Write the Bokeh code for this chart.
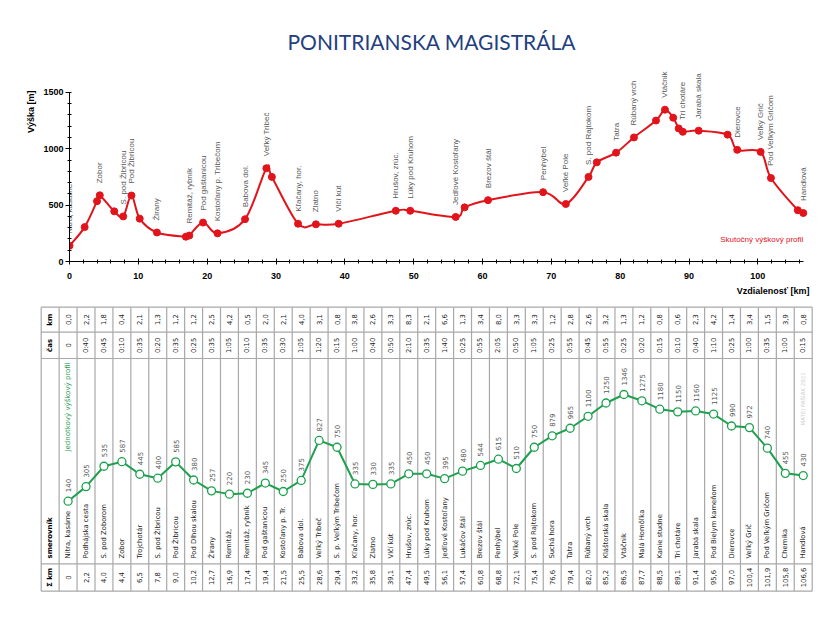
import math
import numpy as np
from bokeh.plotting import figure
from bokeh.models import Range1d, SingleIntervalTicker, Title, Label, ColumnDataSource
from bokeh.layouts import column
from bokeh.core.properties import value
from bokeh.embed import file_html
from bokeh.resources import INLINE

# ---------------- data ----------------
stations = ["Nitra, kasárne", "Podhájska cesta", "S. pod Zoborom", "Zobor", "Trojchotár",
            "S. pod Žibricou", "Pod Žibricou", "Pod Dlhou skalou", "Žirany", "Remitáž,",
            "Remitáž, rybník", "Pod gaštanicou", "Kostoľany p. Tr.", "Babova dol.", "Veľký Tribeč",
            "S. p. Veľkým Tribečom", "Kľačany, hor.", "Zlatno", "Vlčí kút", "Hrušov, zrúc.",
            "Lúky pod Kruhom", "Jedľové Kostoľany", "Lukáčov štál", "Brezov štál", "Penhýbel",
            "Veľké Pole", "S. pod Rajtokom", "Suchá hora", "Tatra", "Rúbaný vrch",
            "Kláštorská skala", "Vtáčnik", "Malá Homôľka", "Kanie studne", "Tri chotáre",
            "Jarabá skala", "Pod Bielym kameňom", "Dierovce", "Veľký Grič", "Pod Veľkým Gričom",
            "Chemika", "Handlová"]

top_labels = ["Nitra, kasárne", "", "", "Zobor", "",
              "S. pod Žibricou", "Pod Žibricou", "", "Žirany", "",
              "Remitáž, rybník", "Pod gaštanicou", "Kostoľany p. Tribečom", "Babova dol.", "Veľký Tribeč",
              "", "Kľačany, hor.", "Zlatno", "Vlčí kút", "Hrušov, zrúc.",
              "Lúky pod Kruhom", "Jedľové Kostoľany", "", "Brezov štál", "Penhýbel",
              "Veľké Pole", "S. pod Rajtokom", "", "Tatra", "Rúbaný vrch",
              "", "Vtáčnik", "", "", "Tri chotáre",
              "Jarabá skala", "", "Dierovce", "Veľký Grič", "Pod Veľkým Gričom",
              "", "Handlová"]

leg_km = [0.0, 2.2, 1.8, 0.4, 2.1, 1.3, 1.2, 1.2, 2.5, 4.2,
          0.5, 2.0, 2.1, 4.0, 3.1, 0.8, 3.8, 2.6, 3.3, 8.3,
          2.1, 6.6, 1.3, 3.4, 8.0, 3.3, 3.3, 1.2, 2.8, 2.6,
          3.2, 1.3, 1.2, 0.8, 0.6, 2.3, 4.2, 1.4, 3.4, 1.5,
          3.9, 0.8]

leg_time = ["0", "0:40", "0:45", "0:10", "0:35", "0:20", "0:35", "0:25", "0:35", "1:05",
            "0:10", "0:35", "0:30", "1:05", "1:20", "0:15", "1:00", "0:40", "0:50", "2:10",
            "0:35", "1:40", "0:25", "0:55", "2:05", "0:50", "1:05", "0:25", "0:55", "0:45",
            "0:55", "0:25", "0:20", "0:15", "0:10", "0:40", "1:10", "0:25", "1:00", "0:35",
            "1:00", "0:15"]

cum_km = [0.0, 2.2, 4.0, 4.4, 6.5, 7.8, 9.0, 10.2, 12.7, 16.9,
          17.4, 19.4, 21.5, 25.5, 28.6, 29.4, 33.2, 35.8, 39.1, 47.4,
          49.5, 56.1, 57.4, 60.8, 68.8, 72.1, 75.4, 76.6, 79.4, 82.0,
          85.2, 86.5, 87.7, 88.5, 89.1, 91.4, 95.6, 97.0, 100.4, 101.9,
          105.8, 106.6]

elevation = [140, 305, 535, 587, 445, 400, 585, 380, 257, 220,
             230, 345, 250, 375, 827, 750, 335, 330, 335, 450,
             450, 395, 480, 544, 615, 510, 750, 879, 965, 1100,
             1250, 1346, 1275, 1180, 1150, 1160, 1125, 990, 972, 740,
             455, 430]

title_text = "PONITRIANSKA MAGISTRÁLA"
x_axis_title = "Vzdialenosť [km]"
y_axis_title = "Výška [m]"
real_profile_label = "Skutočný výškový profil"
unit_profile_label = "Jednotkový výškový profil"
row_labels = ["km", "čas", "smerovník", "Σ km"]
author = "MATEJ PAŠIAK   2021"

# ---------------- styles ----------------
W = 836
RED = "#E2141B"
GREEN = "#1FA04F"
LBL = "#595959"
TITLE_C = "#23407E"
GRID_C = "#A8A8A8"
TF = "DejaVu Sans"


def fmt(v):
    return f"{v:.1f}".replace(".", ",")


def no_frame_align(p):
    if "frame_align" in p.properties():
        p.frame_align = False


# ================= top chart =================
top = figure(width=W, height=300, output_backend="svg", toolbar_location=None,
             x_range=Range1d(0, 107.5), y_range=Range1d(0, 1800),
             min_border_left=69, min_border_right=27, min_border_top=58, min_border_bottom=39)
no_frame_align(top)
top.outline_line_color = None
top.grid.visible = False
top.background_fill_color = "white"

top.title.text = title_text
top.title.align = "left"
top.title.offset = 218
top.title.text_font = "Lato"
top.title.text_font_size = "21px"
top.title.text_font_style = "normal"
top.title.text_color = TITLE_C

top.add_layout(Title(text=y_axis_title, align="right", offset=32, text_font="Liberation Sans",
                     text_font_size="9px", text_font_style="bold", text_color="black"), "left")
top.add_layout(Title(text=x_axis_title, align="right", standoff=4, text_font="Liberation Sans",
                     text_font_size="9px", text_font_style="bold", text_color="black"), "below")

top.xaxis.ticker = SingleIntervalTicker(interval=10, num_minor_ticks=5)
top.yaxis.ticker = SingleIntervalTicker(interval=500, num_minor_ticks=5)
top.xaxis.bounds = (0, 106.7)
top.yaxis.bounds = (0, 1500)
for ax in (top.xaxis, top.yaxis):
    ax.axis_line_color = "black"
    ax.major_tick_line_color = "black"
    ax.minor_tick_line_color = "black"
    ax.major_label_text_font = "Liberation Sans"
    ax.major_label_text_font_size = "9px"
    ax.major_label_text_font_style = "bold"
    ax.major_label_text_color = "black"
top.xaxis.major_tick_in = 3
top.xaxis.major_tick_out = 3
top.xaxis.minor_tick_in = 2
top.xaxis.minor_tick_out = 2
top.xaxis.major_label_standoff = 8
top.yaxis.major_tick_in = 0
top.yaxis.major_tick_out = 4
top.yaxis.minor_tick_in = 2
top.yaxis.minor_tick_out = 2
top.yaxis.major_label_standoff = 2

xs = np.array(cum_km, dtype=float)
ys = np.array(elevation, dtype=float)
n = len(xs)
i = np.arange(n - 1)
im1 = np.maximum(i - 1, 0)
ip2 = np.minimum(i + 2, n - 1)
bez = ColumnDataSource(dict(
    x0=xs[:-1], y0=ys[:-1], x1=xs[1:], y1=ys[1:],
    cx0=xs[i] + (xs[i + 1] - xs[im1]) / 6.0, cy0=ys[i] + (ys[i + 1] - ys[im1]) / 6.0,
    cx1=xs[i + 1] - (xs[ip2] - xs[i]) / 6.0, cy1=ys[i + 1] - (ys[ip2] - ys[i]) / 6.0,
))
top.bezier(x0="x0", y0="y0", x1="x1", y1="y1", cx0="cx0", cy0="cy0", cx1="cx1", cy1="cy1",
           source=bez, line_color=RED, line_width=2)
top.scatter(x=cum_km, y=elevation, size=7, marker="circle", fill_color=RED, line_color=RED)

lab_idx = [k for k, t in enumerate(top_labels) if t]
top_lab_src = ColumnDataSource(dict(
    x=[cum_km[k] for k in lab_idx], y=[elevation[k] for k in lab_idx],
    t=[top_labels[k] for k in lab_idx]))
top.text(x="x", y="y", text="t", source=top_lab_src, angle=math.pi / 2, y_offset=-12,
         text_align="left", text_baseline="middle", text_font=value("Liberation Sans"),
         text_font_size="8px", text_color=LBL)

top.add_layout(Label(x=106.6, y=195, text=real_profile_label, text_align="right",
                     text_baseline="middle", text_font="Liberation Sans",
                     text_font_size="8px", text_color=RED))

# ================= table =================
tab = figure(width=W, height=326, output_backend="svg", toolbar_location=None,
             x_range=Range1d(-3.770, 42.856), y_range=Range1d(0, 326),
             x_axis_type=None, y_axis_type=None, min_border=0)
no_frame_align(tab)
tab.outline_line_color = None
tab.grid.visible = False
tab.extra_y_ranges = {"elev": Range1d(-1276.1, 2408.7)}

ns = len(stations)
idx = list(range(ns))
y_top, y_km, y_cas, y_names, y_bot = 319.3, 294.3, 268.0, 62.7, 35.3
yc_km, yc_cas, yc_name, yc_sum = 306.8, 281.1, 68.0, 49.0
x_left, x_right = -1.5, ns - 0.5

vx = [k - 0.5 for k in range(-1, ns + 1)]
tab.segment(x0=vx, y0=[y_bot] * len(vx), x1=vx, y1=[y_top] * len(vx),
            line_color=GRID_C, line_width=1.2)
hy = [y_top, y_km, y_cas, y_names, y_bot]
tab.segment(x0=[x_left] * len(hy), y0=hy, x1=[x_right] * len(hy), y1=hy,
            line_color=GRID_C, line_width=1.2)

# header column
hdr_common = dict(angle=math.pi / 2, text_baseline="middle", text_font=value(TF),
                  text_font_size="7px", text_font_style="bold", text_color="black")
tab.text(x=[-1, -1, -1], y=[yc_km, yc_cas, yc_sum], text=[row_labels[0], row_labels[1], row_labels[3]],
         text_align="center", **hdr_common)
tab.text(x=[-1], y=[yc_name], text=[row_labels[2]], text_align="left", **hdr_common)

cell = dict(angle=math.pi / 2, text_baseline="middle", text_font=value(TF),
            text_font_size="6.8px", text_color="#1A1A1A")
tab.text(x=idx, y=[yc_km] * ns, text=[fmt(v) for v in leg_km], text_align="center", **cell)
tab.text(x=idx, y=[yc_cas] * ns, text=leg_time, text_align="center", **cell)
tab.text(x=idx, y=[yc_name] * ns, text=stations, text_align="left", **cell)
tab.text(x=idx, y=[yc_sum] * ns, text=["0" if v == 0 else fmt(v) for v in cum_km],
         text_align="center", **cell)

# unit profile
tab.line(x=idx, y=elevation, y_range_name="elev", line_color=GREEN, line_width=2)
tab.scatter(x=idx, y=elevation, y_range_name="elev", size=8, marker="circle",
            fill_color="white", line_color=GREEN, line_width=1.3)
tab.text(x=idx, y=elevation, text=[str(v) for v in elevation], y_range_name="elev",
         y_offset=-9, angle=math.pi / 2, text_align="left", text_baseline="middle",
         text_font=value(TF), text_font_size="7px", text_color=LBL)

tab.text(x=[0], y=[175], text=[unit_profile_label], angle=math.pi / 2, text_align="left",
         text_baseline="middle", text_font=value(TF), text_font_size="7px", text_color=GREEN)
tab.text(x=[ns - 1], y=[201], text=[author], angle=math.pi / 2, text_align="left",
         text_baseline="middle", text_font=value(TF), text_font_size="5.5px", text_color="#D0D0D0")

layout = column(top, tab)
open("out.html", "w").write(file_html(layout, INLINE))
